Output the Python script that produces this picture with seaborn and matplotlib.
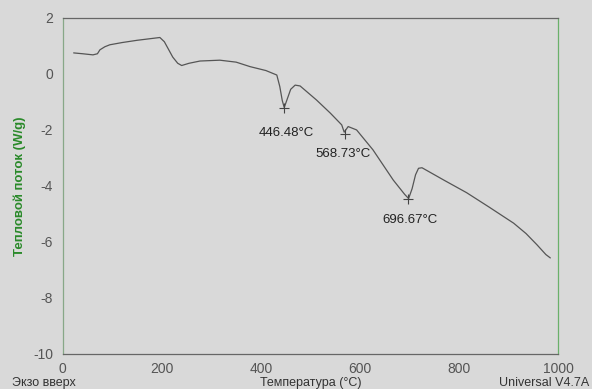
import matplotlib
matplotlib.use("Agg")
import matplotlib.pyplot as plt
import numpy as np
import pandas as pd
import seaborn as sns
from matplotlib.ticker import MultipleLocator

# кривая ДСК
temperatura = [22, 40, 61, 70, 75, 85, 95, 120, 150, 196, 205, 222, 232, 240, 255, 277,
               317, 350, 378, 410, 432, 438, 443, 447, 452, 460, 469, 479, 512, 540,
               563, 568, 572, 576, 593, 626, 667, 690, 698, 705, 712, 718, 725, 770,
               815, 860, 910, 935, 957, 975, 984]
flujo = [0.75, 0.72, 0.68, 0.72, 0.86, 0.97, 1.04, 1.12, 1.2, 1.3, 1.15, 0.6, 0.38, 0.3,
         0.38, 0.46, 0.49, 0.42, 0.26, 0.12, -0.04, -0.45, -0.95, -1.2, -0.95, -0.55,
         -0.4, -0.43, -0.93, -1.4, -1.82, -2.08, -1.98, -1.88, -2.0, -2.71, -3.79,
         -4.3, -4.45, -4.1, -3.6, -3.37, -3.35, -3.8, -4.24, -4.75, -5.33, -5.7, -6.1,
         -6.45, -6.57]

picos_t = [446.48, 568.73, 696.67]
picos_y = [-1.2, -2.15, -4.45]
etiquetas = ["446.48°C", "568.73°C", "696.67°C"]
etiq_x = [452, 566, 701]
etiq_y = [-2.1, -2.85, -5.2]

df = pd.DataFrame({"T": temperatura, "Q": flujo})

sns.set_style("white")
plt.rcParams["font.family"] = ["Liberation Sans", "DejaVu Sans"]
plt.rcParams["axes.unicode_minus"] = False

fondo = "#d9d9d9"
fig, ax = plt.subplots(figsize=(5.92, 3.89), dpi=100)
fig.patch.set_facecolor(fondo)
ax.set_facecolor(fondo)
fig.subplots_adjust(left=0.106, right=0.943, top=0.954, bottom=0.09)

sns.lineplot(x="T", y="Q", data=df, ax=ax, color="#555555", linewidth=0.9)
ax.scatter(picos_t, picos_y, marker="+", s=45, color="#444444", linewidths=0.8, zorder=3)
for tx, ty, lab in zip(etiq_x, etiq_y, etiquetas):
    ax.text(tx, ty, lab, ha="center", va="center", fontsize=9.5, color="#222222")

ax.set_xlim(0, 1000)
ax.set_ylim(-10, 2)
ax.set_xticks([0, 200, 400, 600, 800, 1000])
ax.set_yticks([2, 0, -2, -4, -6, -8, -10])
ax.xaxis.set_minor_locator(MultipleLocator(50))
ax.yaxis.set_minor_locator(MultipleLocator(1))
ax.tick_params(which="both", direction="out", colors="#777777", labelcolor="#555555",
               labelsize=10)
ax.tick_params(which="major", length=4, width=0.8)
ax.tick_params(which="minor", length=2.5, width=0.6)
ax.tick_params(axis="x", pad=1.5)
ax.tick_params(axis="y", pad=3)

for lado in ["top", "bottom"]:
    ax.spines[lado].set_color("#666666")
    ax.spines[lado].set_linewidth(0.9)
ax.spines["left"].set_color("#88a888")
ax.spines["right"].set_color("#6ab06a")
ax.spines["left"].set_linewidth(0.9)
ax.spines["right"].set_linewidth(0.9)

ax.set_xlabel("")
ax.set_ylabel("Тепловой поток (W/g)", color="#2a8a2a", fontsize=9.5, fontweight="bold",
              labelpad=5)

fig.text(0.02, 0.0, "Экзо вверх", fontsize=9, color="#333333", ha="left", va="bottom")
fig.text(0.525, 0.0, "Температура (°C)", fontsize=9, color="#333333", ha="center",
         va="bottom")
fig.text(0.996, 0.0, "Universal V4.7A", fontsize=9, color="#333333", ha="right",
         va="bottom")

fig.savefig("out.png", dpi=100, facecolor=fondo)
